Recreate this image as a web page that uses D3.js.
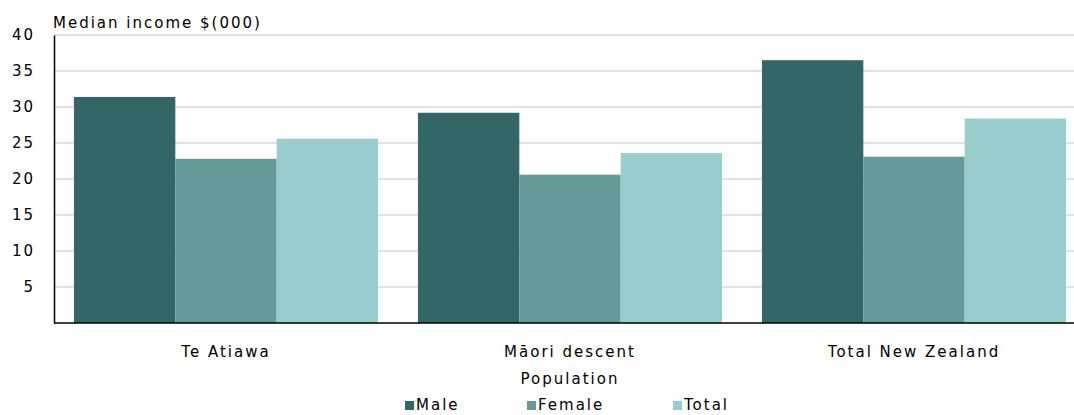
<!DOCTYPE html>
<html>
<head>
<meta charset="utf-8">
<script src="https://cdn.jsdelivr.net/npm/d3@7"></script>
<style>
  body { margin: 0; background: #fff; }
  svg { font-family: "DejaVu Sans", Verdana, sans-serif; }
  svg text { letter-spacing: 2px; }
</style>
</head>
<body>
<svg id="chart" width="1074" height="415"></svg>
<script>
// data
const categories = ["Te Atiawa", "Māori descent", "Total New Zealand"];
const seriesNames = ["Male", "Female", "Total"];
const male = [31.4, 29.2, 36.5];
const female = [22.8, 20.6, 23.1];
const total = [25.6, 23.6, 28.4];
const yTicks = [5, 10, 15, 20, 25, 30, 35, 40];

const colors = ["#336666", "#669999", "#99cccc"];
const series = [male, female, total];

const width = 1074, height = 415;
const margin = { top: 35, left: 54, bottom: 92 };
const plotBottom = height - margin.bottom; // 323
const fontSize = "15px";

const svg = d3.select("#chart");

//scales
const x0 = d3.scaleBand()
  .domain(categories)
  .range([margin.left, margin.left + 3 * 344])
  .paddingInner(0.116)
  .paddingOuter(0.058);
const x1 = d3.scaleBand()
  .domain(seriesNames)
  .range([0, x0.bandwidth()]);
const y = d3.scaleLinear()
  .domain([0, 40])
  .range([plotBottom, margin.top]);

//gridlines
svg.append("g")
  .selectAll("line")
  .data(yTicks)
  .join("line")
  .attr("x1", margin.left)
  .attr("x2", width)
  .attr("y1", d => y(d))
  .attr("y2", d => y(d))
  .attr("stroke", "#d9d9d9")
  .attr("stroke-width", 1.5);

//bars
const rows = categories.map((c, i) => ({
  cat: c,
  vals: seriesNames.map((s, j) => ({ s, v: series[j][i], c: colors[j] }))
}));
svg.append("g")
  .selectAll("g")
  .data(rows)
  .join("g")
  .attr("transform", d => `translate(${x0(d.cat)},0)`)
  .selectAll("rect")
  .data(d => d.vals)
  .join("rect")
  .attr("x", d => x1(d.s))
  .attr("width", x1.bandwidth())
  .attr("y", d => y(d.v))
  .attr("height", d => y(0) - y(d.v))
  .attr("fill", d => d.c);

//axes
const yAxis = svg.append("g")
  .attr("transform", `translate(${margin.left},0)`)
  .call(d3.axisLeft(y).tickValues(yTicks).tickSize(0).tickPadding(19));
yAxis.select(".domain").attr("stroke", "#000").attr("stroke-width", 1.5);
yAxis.selectAll("text")
  .attr("font-size", fontSize)
  .attr("fill", "#000")
  .attr("font-family", "DejaVu Sans, Verdana, sans-serif");

svg.append("line")
  .attr("x1", margin.left).attr("x2", width)
  .attr("y1", plotBottom).attr("y2", plotBottom)
  .attr("stroke", "#000").attr("stroke-width", 1.5);

//category labels
svg.append("g")
  .selectAll("text")
  .data(categories)
  .join("text")
  .attr("x", d => x0(d) + x0.bandwidth() / 2)
  .attr("y", 357)
  .attr("text-anchor", "middle")
  .attr("font-size", fontSize)
  .text(d => d);

svg.append("text")
  .attr("x", x0(categories[1]) + x0.bandwidth() / 2)
  .attr("y", 384)
  .attr("text-anchor", "middle")
  .attr("font-size", fontSize)
  .text("Population");

svg.append("text")
  .attr("x", 53)
  .attr("y", 28)
  .attr("font-size", fontSize)
  .text("Median income $(000)");

//legend
const legendX = [405, 527, 673];
const legend = svg.append("g")
  .selectAll("g")
  .data(seriesNames)
  .join("g")
  .attr("transform", (d, i) => `translate(${legendX[i]},0)`);
legend.append("rect")
  .attr("x", 0).attr("y", 401)
  .attr("width", 9).attr("height", 9)
  .attr("fill", (d, i) => colors[i]);
legend.append("text")
  .attr("x", 11).attr("y", 410)
  .attr("font-size", fontSize)
  .text(d => d);
</script>
</body>
</html>
